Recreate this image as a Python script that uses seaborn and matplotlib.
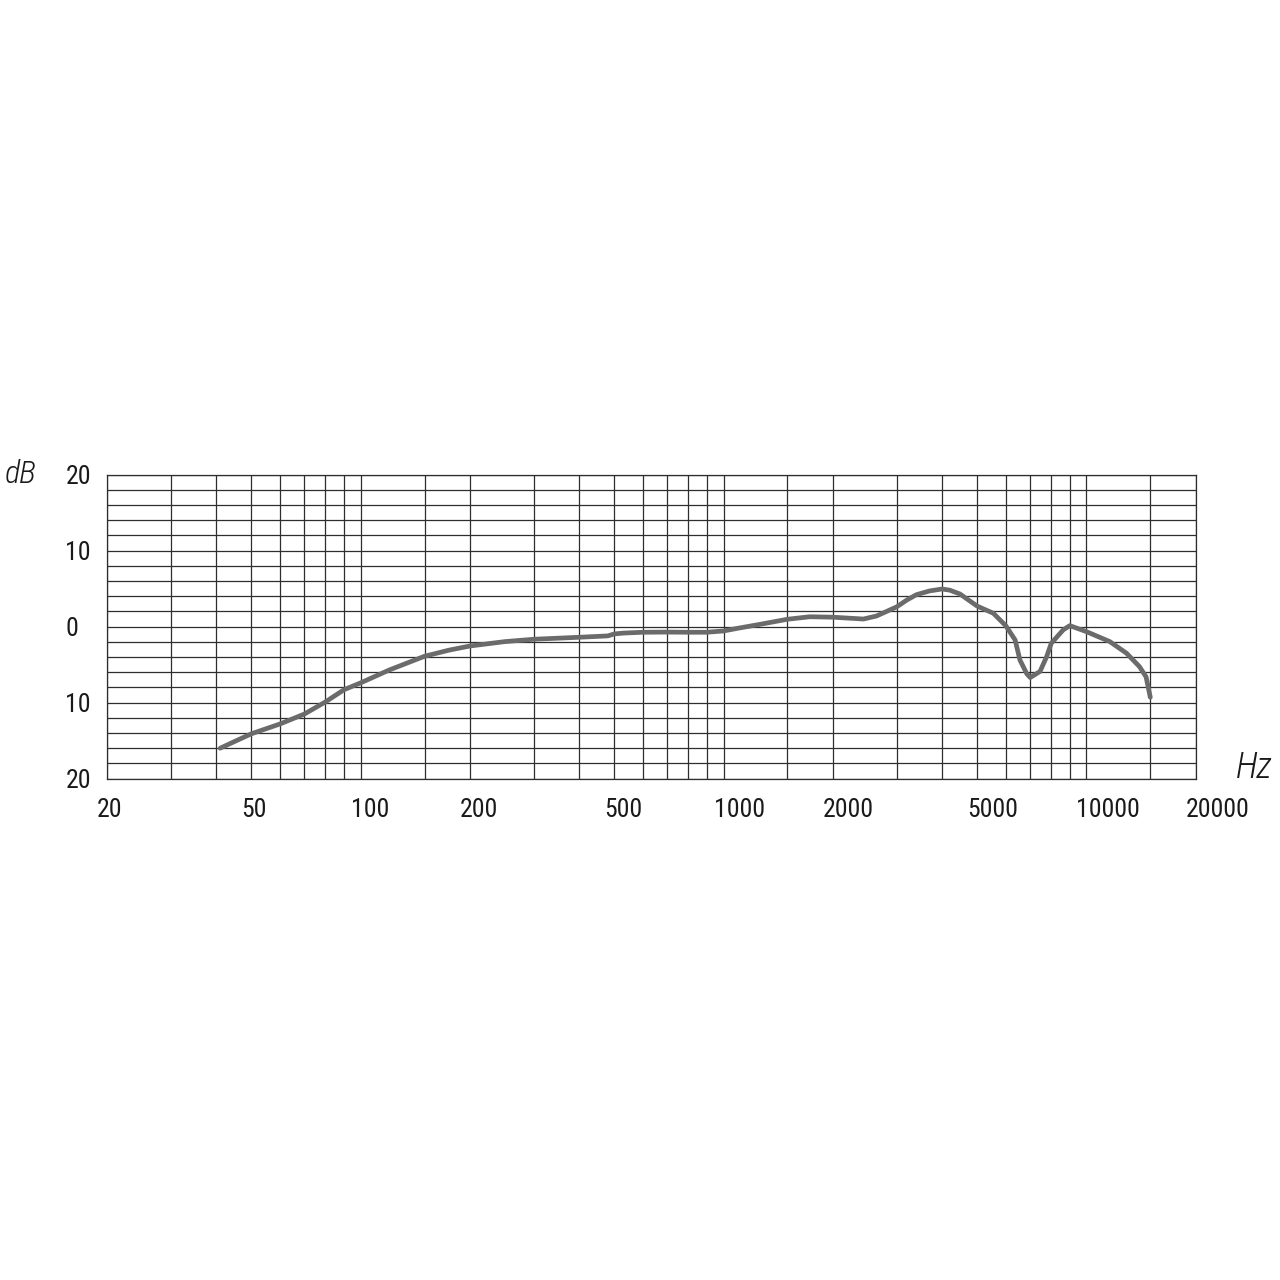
"""
Frequency response chart (dB vs Hz, log scale) drawn with seaborn.
"""

import matplotlib
matplotlib.use("Agg")
import matplotlib.pyplot as plt
from matplotlib.transforms import ScaledTranslation
import seaborn as sns

# response curve
freq_hz = [41, 45, 50, 60, 70, 80, 90, 100, 120, 150, 175, 200, 250, 300,
           400, 480, 500, 530, 600, 700, 800, 900, 1000, 1100, 1260, 1500,
           1730, 2000, 2430, 2640, 3000, 3200, 3400, 3700, 4000, 4200, 4480,
           4700, 5000, 5540, 6000, 6360, 6560, 6850, 7000, 7450, 7770, 8000,
           8630, 9000, 10000, 11600, 12900, 14000, 14600, 15000]
level_db = [-16.0, -15.1, -14.1, -12.8, -11.5, -9.9, -8.3, -7.4, -5.7,
            -3.9, -3.1, -2.55, -1.97, -1.66, -1.4, -1.22, -0.96, -0.85, -0.74,
            -0.72, -0.74, -0.74, -0.57, -0.2, 0.3, 0.97, 1.3, 1.24, 1.0, 1.4,
            2.6, 3.5, 4.2, 4.7, 4.95, 4.8, 4.3, 3.6, 2.7, 1.76, 0.1, -1.75,
            -4.4, -6.2, -6.7, -5.9, -3.95, -2.2, -0.43, 0.13, -0.66, -1.97,
            -3.5, -5.26, -6.6, -9.3]

# grid and tick labels
grid_freqs = [20, 30, 40, 50, 60, 70, 80, 90, 100, 150, 200, 300, 400, 500,
              600, 700, 800, 900, 1000, 1500, 2000, 3000, 4000, 5000, 6000,
              7000, 8000, 9000, 10000, 15000, 20000]
label_freqs = [20, 50, 100, 200, 500, 1000, 2000, 5000, 10000, 20000]
label_texts = ["20", "50", "100", "200", "500", "1000", "2000", "5000",
               "10000", "20000"]
db_ticks = [-20, -10, 0, 10, 20]
db_texts = ["20", "10", "0", "10", "20"]
db_grid = list(range(-20, 21, 2))


def main():
    sns.set_style("white")
    plt.rcParams["font.family"] = ["Roboto Condensed", "Liberation Sans Narrow",
                                   "DejaVu Sans"]
    plt.rcParams["font.stretch"] = "condensed"

    fig = plt.figure(figsize=(12.8, 12.8), dpi=100)
    ax = fig.add_axes([0.0836, 0.3917, 0.8505, 0.2375])

    sns.lineplot(x=freq_hz, y=level_db, ax=ax, color="#6b6b6b",
                 linewidth=3.4, solid_capstyle="round")

    ax.set_xscale("log")
    ax.set_xlim(20, 20000)
    ax.set_ylim(-20, 20)

    # gridlines on minor ticks, labels on major ticks
    ax.xaxis.remove_overlapping_locs = False
    ax.yaxis.remove_overlapping_locs = False
    ax.set_xticks(label_freqs)
    ax.set_xticklabels(label_texts)
    ax.set_xticks(grid_freqs, minor=True)
    ax.set_xticklabels([], minor=True)
    ax.set_yticks(db_ticks)
    ax.set_yticklabels(db_texts)
    ax.set_yticks(db_grid, minor=True)

    ax.grid(False)
    ax.grid(which="minor", color="#2e2e2e", linewidth=0.9)
    ax.tick_params(which="both", length=0, labelsize=18.5, colors="#1a1a1a")
    ax.tick_params(axis="x", pad=14)
    ax.tick_params(axis="y", pad=30)
    for s in ax.spines.values():
        s.set_color("#2e2e2e")
        s.set_linewidth(0.9)

    shift = ScaledTranslation(-10 / 100, 0, fig.dpi_scale_trans)
    for lab in ax.get_xticklabels():
        lab.set_horizontalalignment("left")
        lab.set_transform(lab.get_transform() + shift)
    for lab in ax.get_yticklabels():
        lab.set_horizontalalignment("left")

    ax.set_xlabel("")
    ax.set_ylabel("")

    fig.text(21 / 1280, 1 - 474 / 1280, "dB", ha="center", va="center",
             fontsize=23, style="italic", weight="light", color="#1a1a1a")
    fig.text(1254 / 1280, 1 - 768 / 1280, "Hz", ha="center", va="center",
             fontsize=26, style="italic", weight="light", color="#1a1a1a")

    fig.savefig("out.png", dpi=100, facecolor="white")
    plt.close(fig)


if __name__ == "__main__":
    main()
